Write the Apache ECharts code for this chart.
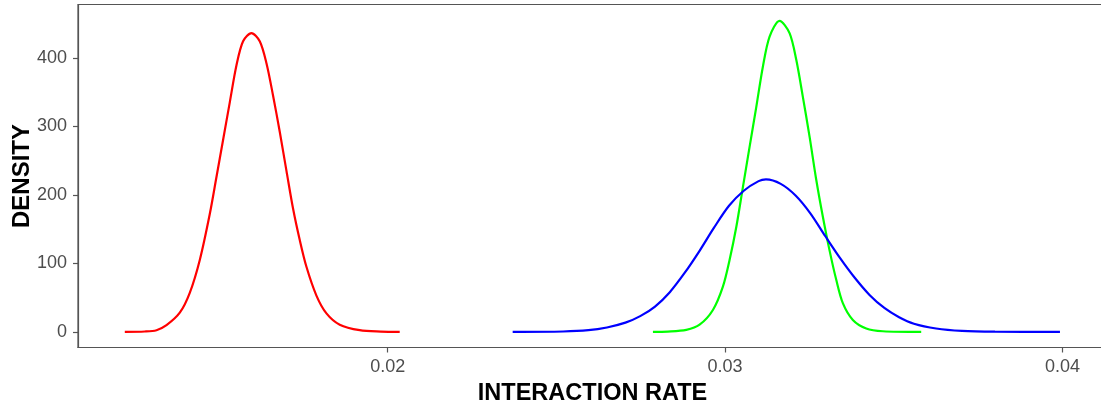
<!DOCTYPE html>
<html>
<head>
<meta charset="utf-8">
<script src="https://cdn.jsdelivr.net/npm/echarts@6/dist/echarts.min.js"></script>
<style>
  html, body { margin: 0; padding: 0; background: #ffffff; }
  #chart { width: 1101px; height: 406px; }
</style>
</head>
<body>
<div id="chart"></div>
<script>
// Values
const xTickValues = [0.02, 0.03, 0.04];
const yTickValues = [0, 100, 200, 300, 400];

const redRate = [0.012207, 0.012800, 0.013147, 0.013443, 0.013837, 0.014133, 0.014430, 0.014726, 0.014924, 0.015120, 0.015319, 0.015517, 0.015713, 0.015961, 0.016207, 0.016406, 0.016601, 0.016800, 0.016999, 0.017194, 0.017393, 0.017591, 0.017887, 0.018184, 0.018578, 0.019170, 0.019800, 0.020356];
const redDensity = [0, 0.6, 2.5, 9.8, 28, 57, 105, 172, 226, 280, 335, 389, 424, 436, 424, 392, 345, 292, 235, 180, 134, 95, 53, 27, 10.5, 2.5, 0.5, 0];

const greenRate = [0.027861, 0.028300, 0.028850, 0.029244, 0.029639, 0.029935, 0.030133, 0.030332, 0.030527, 0.030726, 0.030924, 0.031120, 0.031319, 0.031615, 0.031911, 0.032110, 0.032305, 0.032504, 0.032702, 0.032898, 0.033096, 0.033295, 0.033490, 0.033787, 0.034184, 0.034676, 0.035813];
const greenDensity = [0, 0.5, 3, 10.5, 32, 66, 105, 153, 211, 270, 328, 387, 431, 454, 436, 397, 343, 285, 222, 168, 119, 76, 42, 17.5, 5, 1, 0];

const blueRate = [0.023704, 0.025200, 0.025950, 0.026498, 0.027046, 0.027484, 0.027923, 0.028361, 0.028800, 0.029239, 0.029677, 0.030116, 0.030554, 0.030993, 0.031212, 0.031650, 0.032089, 0.032527, 0.032966, 0.033404, 0.033843, 0.034281, 0.034720, 0.035158, 0.035597, 0.036255, 0.037022, 0.038000, 0.039926];
const blueDensity = [0, 0.6, 2.5, 6.5, 13.5, 23, 37, 58, 86, 118, 152.5, 184, 206, 220, 222.5, 216, 199, 173, 140, 108, 79, 54, 35, 21.5, 12, 5, 1.5, 0.3, 0];

const xName = 'INTERACTION RATE';
const yName = 'DENSITY';

function pairs(xs, ys) { return xs.map((x, i) => [x, ys[i]]); }

const chart = echarts.init(document.getElementById('chart'), null, { renderer: 'canvas' });
const axisGray = '#555555';
const labelGray = '#4d4d4d';
const font = '"Liberation Sans", Arial, sans-serif';

function curve(name, color, xs, ys) {
  return {
    name: name,
    type: 'line',
    data: pairs(xs, ys),
    showSymbol: false,
    symbol: 'none',
    smooth: 0.3,
    lineStyle: { color: color, width: 2.2 },
    itemStyle: { color: color },
    emphasis: { disabled: true },
    z: 3
  };
}

chart.setOption({
  animation: false,
  backgroundColor: '#ffffff',
  grid: {
    left: 78, right: -6, top: 4.5, bottom: 58.5,
    containLabel: false,
    outerBoundsMode: 'none',
    show: true, borderColor: axisGray, borderWidth: 1.2,
    backgroundColor: 'transparent'
  },
  xAxis: {
    type: 'value',
    min: 0.01082, max: 0.04132,
    name: xName, nameLocation: 'middle', nameGap: 34, nameMoveOverlap: false,
    nameTextStyle: { color: '#000000', fontSize: 23.5, fontWeight: 'bold', fontFamily: font },
    splitLine: { show: false },
    axisLine: { show: true, onZero: false, lineStyle: { color: axisGray, width: 1.2 } },
    axisTick: { show: true, length: 5, customValues: xTickValues, lineStyle: { color: axisGray, width: 1.2 } },
    axisLabel: {
      customValues: xTickValues, margin: 11,
      color: labelGray, fontSize: 18, fontFamily: font,
      formatter: v => v.toFixed(2)
    }
  },
  yAxis: {
    type: 'value',
    min: -22.75, max: 477.75,
    name: yName, nameLocation: 'middle', nameGap: 44, nameRotate: 90, nameMoveOverlap: false,
    nameTextStyle: { color: '#000000', fontSize: 24, fontWeight: 'bold', fontFamily: font },
    splitLine: { show: false },
    axisLine: { show: true, onZero: false, lineStyle: { color: axisGray, width: 1.2 } },
    axisTick: { show: true, length: 5, customValues: yTickValues, lineStyle: { color: axisGray, width: 1.2 } },
    axisLabel: {
      customValues: yTickValues, margin: 11,
      color: labelGray, fontSize: 18, fontFamily: font,
      formatter: v => String(Math.round(v))
    }
  },
  series: [
    curve('red', '#ff0000', redRate, redDensity),
    curve('green', '#00ff00', greenRate, greenDensity),
    curve('blue', '#0000ff', blueRate, blueDensity)
  ]
});
</script>
</body>
</html>
